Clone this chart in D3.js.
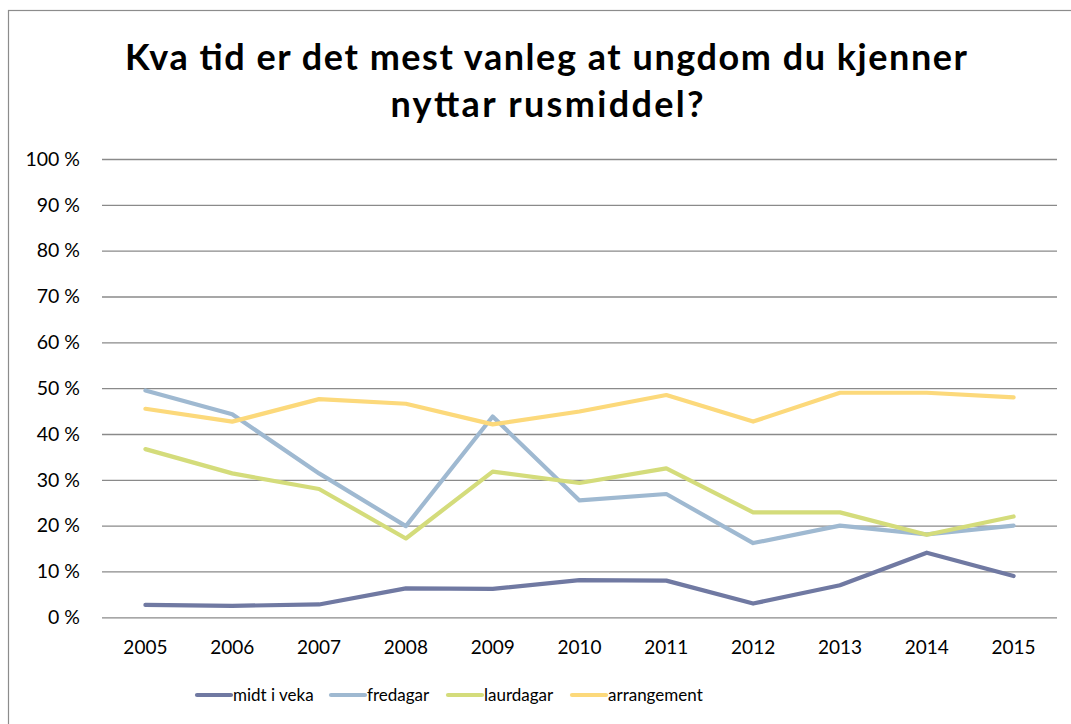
<!DOCTYPE html>
<html lang="nn">
	<head>
		<meta charset="UTF-8" />
		<script src="https://cdnjs.cloudflare.com/ajax/libs/d3/7.8.5/d3.min.js"></script>
		<title>Kva tid er det mest vanleg</title>
		<style>
			body { margin: 0; background: #fff; }
			text { font-family: Lato, 'Open Sans', sans-serif; fill: #000; }
		</style>
	</head>
	<body>
		<div class="chart"></div>

		<script>
			// data
			const years = ['2005', '2006', '2007', '2008', '2009', '2010', '2011', '2012', '2013', '2014', '2015']
			const seriesNames = ['midt i veka', 'fredagar', 'laurdagar', 'arrangement']
			const midtIVeka = [2.7, 2.5, 2.8, 6.3, 6.2, 8.1, 8.0, 3.0, 7.0, 14.1, 9.0]
			const fredagar = [49.5, 44.3, 31.4, 19.9, 43.8, 25.5, 26.9, 16.2, 20.0, 18.1, 20.0]
			const laurdagar = [36.7, 31.4, 28.0, 17.2, 31.8, 29.3, 32.5, 22.9, 22.9, 18.0, 22.0]
			const arrangement = [45.5, 42.7, 47.6, 46.6, 42.1, 44.9, 48.5, 42.7, 49.0, 49.0, 48.0]
			const yTicks = [0, 10, 20, 30, 40, 50, 60, 70, 80, 90, 100]
			const colors = ['#7079a2', '#9fb9d1', '#d4dc7b', '#fcd97b']

			const series = [midtIVeka, fredagar, laurdagar, arrangement]

			const width = 1071
			const height = 724
			const plot = { left: 102, right: 1057, top: 159, bottom: 617.3 }

			const svg = d3
				.select('.chart')
				.append('svg')
				.attr('width', width)
				.attr('height', height)

			// ramme
			svg
				.append('rect')
				.attr('x', 8.5)
				.attr('y', 10.5)
				.attr('width', 1100)
				.attr('height', 760)
				.attr('fill', 'none')
				.attr('stroke', '#8c8c8c')
				.attr('stroke-width', 1.2)

			// tittel
			const title = svg
				.append('text')
				.attr('text-anchor', 'middle')
				.style('font-size', '36px')
				.style('font-weight', 'bold')
			title
				.append('tspan')
				.attr('x', 546)
				.attr('y', 70)
				.attr('textLength', 842)
				.attr('lengthAdjust', 'spacing')
				.text('Kva tid er det mest vanleg at ungdom du kjenner')
			title
				.append('tspan')
				.attr('x', 547)
				.attr('y', 117)
				.attr('textLength', 313)
				.attr('lengthAdjust', 'spacing')
				.text('nyttar rusmiddel?')

			const xScale = d3
				.scaleBand()
				.domain(years)
				.range([plot.left, plot.right])

			const yScale = d3.scaleLinear().domain([0, 100]).range([plot.bottom, plot.top])

			// rutenett og y-akse
			const yAxis = svg
				.append('g')
				.attr('transform', `translate(${plot.left}, 0)`)
				.call(
					d3
						.axisLeft(yScale)
						.tickValues(yTicks)
						.tickSize(-(plot.right - plot.left))
						.tickPadding(22)
						.tickFormat(d => d + ' %')
				)
			yAxis.select('.domain').remove()
			yAxis.selectAll('line').attr('stroke', '#8a8a8a').attr('stroke-width', 1.3)
			yAxis.selectAll('text').style('font-size', '19.5px').attr('fill', '#000')

			// x-akse
			const xAxis = svg
				.append('g')
				.attr('transform', `translate(0, ${plot.bottom})`)
				.call(d3.axisBottom(xScale).tickSize(0).tickPadding(23))
			xAxis.select('.domain').remove()
			xAxis.selectAll('text').style('font-size', '19px').attr('fill', '#000')

			// linjer
			const line = d3
				.line()
				.x((d, i) => xScale(years[i]) + xScale.bandwidth() / 2)
				.y(d => yScale(d))

			svg
				.selectAll('.serie')
				.data(series)
				.join('path')
				.attr('class', 'serie')
				.attr('d', d => line(d))
				.attr('fill', 'none')
				.attr('stroke', (d, i) => colors[i])
				.attr('stroke-width', 4.2)
				.attr('stroke-linejoin', 'round')
				.attr('stroke-linecap', 'round')

			// forklaring
			const legendX = [197, 331, 448, 572]
			const legend = svg
				.selectAll('.legend')
				.data(seriesNames)
				.join('g')
				.attr('class', 'legend')
				.attr('transform', (d, i) => `translate(${legendX[i]}, 695)`)
			legend
				.append('line')
				.attr('x1', 0)
				.attr('x2', 34)
				.attr('stroke', (d, i) => colors[i])
				.attr('stroke-width', 4.2)
				.attr('stroke-linecap', 'round')
			legend
				.append('text')
				.attr('x', 36)
				.attr('dy', '0.35em')
				.style('font-size', '17px')
				.text(d => d)
		</script>
	</body>
</html>
